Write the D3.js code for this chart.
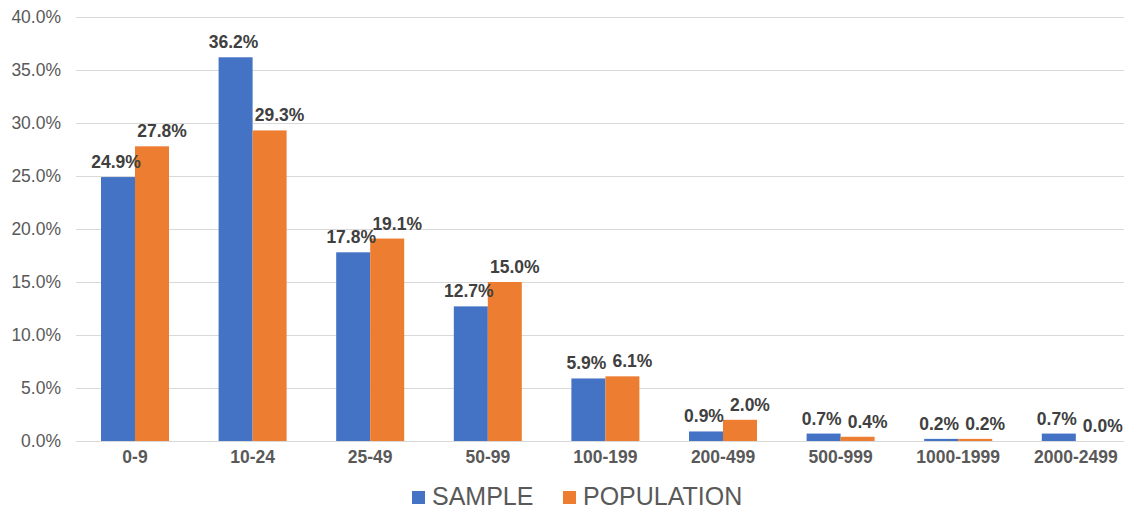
<!DOCTYPE html>
<html>
<head>
<meta charset="utf-8">
<script src="https://cdn.jsdelivr.net/npm/d3@7"></script>
<style>
  html, body { margin: 0; padding: 0; background: #fff; }
  svg { display: block; font-family: "Liberation Sans", Arial, sans-serif; }
</style>
</head>
<body>
<svg id="chart" width="1124" height="510"></svg>
<script>
// Size classes and the share of each in the sample vs. the population (%)
const categories = ["0-9", "10-24", "25-49", "50-99", "100-199", "200-499", "500-999", "1000-1999", "2000-2499"];
const sample     = [24.9, 36.2, 17.8, 12.7, 5.9, 0.9, 0.7, 0.2, 0.7];
const population = [27.8, 29.3, 19.1, 15.0, 6.1, 2.0, 0.4, 0.2, 0.0];
const seriesNames = ["SAMPLE", "POPULATION"];
const yTicks = [0, 5, 10, 15, 20, 25, 30, 35, 40];

const colors = ["#4472C4", "#ED7D31"];
const series = [sample, population];
// Value labels are nudged sideways so neighbouring labels do not collide
const labelShift = [-2, 10];

const svg = d3.select("#chart");

const x = d3.scaleBand()
  .domain(categories)
  .range([76.2, 1134.6])
  .paddingInner(0)
  .paddingOuter(0);

const inner = d3.scaleBand()
  .domain(seriesNames)
  .range([x.bandwidth() / 2 - 34, x.bandwidth() / 2 + 34]);

const y = d3.scaleLinear().domain([0, 40]).range([441, 17]);

// Horizontal gridlines
svg.append("g")
  .selectAll("line")
  .data(yTicks)
  .join("line")
  .attr("x1", 76).attr("x2", 1124)
  .attr("y1", d => Math.round(y(d)) + 0.5)
  .attr("y2", d => Math.round(y(d)) + 0.5)
  .attr("stroke", "#d9d9d9")
  .attr("stroke-width", 1);

// Y axis labels
const yAxis = d3.axisLeft(y).tickValues(yTicks).tickFormat(d => d.toFixed(1) + "%").tickSize(0).tickPadding(0);
svg.append("g")
  .attr("transform", "translate(61,0)")
  .call(yAxis)
  .call(g => g.select(".domain").remove())
  .call(g => g.selectAll("text")
    .attr("fill", "#595959")
    .attr("font-size", "17.5px")
    .attr("font-family", "Liberation Sans, Arial, sans-serif"));

// Bars
const groups = svg.append("g")
  .selectAll("g")
  .data(categories)
  .join("g")
  .attr("transform", d => `translate(${x(d)},0)`);

seriesNames.forEach((name, si) => {
  groups.append("rect")
    .attr("x", inner(name))
    .attr("width", inner.bandwidth())
    .attr("y", (d, i) => y(series[si][i]))
    .attr("height", (d, i) => y(0) - y(series[si][i]))
    .attr("fill", colors[si]);
});

// Value labels
seriesNames.forEach((name, si) => {
  groups.append("text")
    .attr("x", inner(name) + inner.bandwidth() / 2 + labelShift[si])
    .attr("y", (d, i) => y(series[si][i]) - 9)
    .attr("text-anchor", "middle")
    .attr("font-size", "17.5px")
    .attr("font-weight", "bold")
    .attr("fill", "#404040")
    .text((d, i) => series[si][i].toFixed(1) + "%");
});

// X axis category labels
const xAxis = d3.axisBottom(x).tickSize(0).tickPadding(0);
svg.append("g")
  .attr("transform", "translate(0,451)")
  .call(xAxis)
  .call(g => g.select(".domain").remove())
  .call(g => g.selectAll("text")
    .attr("dy", "0.71em")
    .attr("fill", "#595959")
    .attr("font-size", "17.5px")
    .attr("font-weight", "bold")
    .attr("font-family", "Liberation Sans, Arial, sans-serif"));

// Legend
const legendItems = [
  { name: seriesNames[0], color: colors[0], x: 412 },
  { name: seriesNames[1], color: colors[1], x: 563 }
];
const legend = svg.append("g");
legendItems.forEach(item => {
  legend.append("rect")
    .attr("x", item.x).attr("y", 491)
    .attr("width", 13).attr("height", 13)
    .attr("fill", item.color);
  legend.append("text")
    .attr("x", item.x + 20).attr("y", 505)
    .attr("font-size", "25px")
    .attr("fill", "#595959")
    .text(item.name);
});
</script>
</body>
</html>
